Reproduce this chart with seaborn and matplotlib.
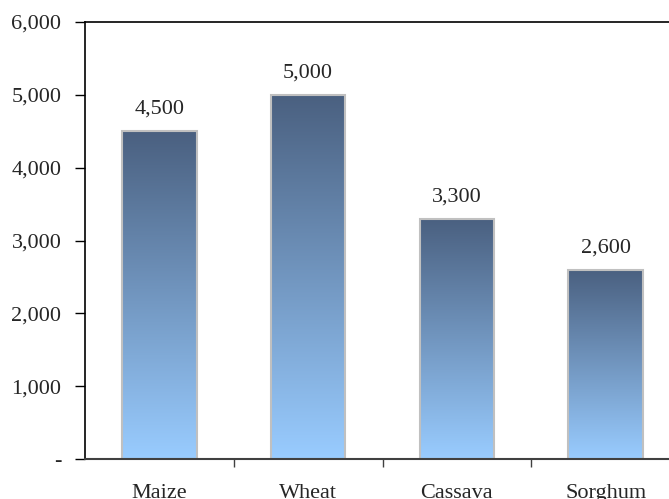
import numpy as np
import pandas as pd
import matplotlib
matplotlib.use("Agg")
import matplotlib.pyplot as plt
import seaborn as sns
from matplotlib.colors import LinearSegmentedColormap
from matplotlib.ticker import FuncFormatter

# Data
crops = ["Maize", "Wheat", "Cassava", "Sorghum"]
values = [4500, 5000, 3300, 2600]

df = pd.DataFrame({"Crop": crops, "Value": values})

sns.set_style("white")
plt.rcParams["font.family"] = ["Liberation Serif", "DejaVu Serif"]
plt.rcParams["font.size"] = 16

fig = plt.figure(figsize=(6.69, 4.99), dpi=100)
# axes runs a little past the right edge of the picture, like the original
ax = fig.add_axes([85 / 669, 40 / 499, 595 / 669, 437 / 499])

sns.barplot(data=df, x="Crop", y="Value", ax=ax, width=0.5,
            color="#7ea7d6", edgecolor="#c0c0c0", linewidth=1.5)

# vertical gradient on each bar: dark slate at top, light sky blue at bottom
cmap = LinearSegmentedColormap.from_list("barfade", ["#99ccff", "#4a6080"])
grad = np.linspace(0, 1, 256).reshape(-1, 1)
for patch in ax.patches:
    x0, y0 = patch.get_x(), patch.get_y()
    w, h = patch.get_width(), patch.get_height()
    im = ax.imshow(grad, cmap=cmap, origin="lower", aspect="auto",
                   extent=[x0, x0 + w, y0, y0 + h], zorder=patch.get_zorder())
    im.set_clip_path(patch)
    patch.set_facecolor("none")
    patch.set_zorder(patch.get_zorder() + 0.5)
    ax.text(x0 + w / 2, y0 + h + 170, f"{int(h):,}", ha="center", va="bottom",
            fontsize=16)

ax.set_xlim(-0.5, len(crops) - 0.5)
ax.set_ylim(0, 6000)
ax.set_yticks(range(0, 6001, 1000))
ax.yaxis.set_major_formatter(FuncFormatter(lambda v, p: "-" if v == 0 else f"{int(v):,}"))
ax.set_xlabel("")
ax.set_ylabel("")

# category labels without ticks, tick marks between categories
ax.set_xticks(range(len(crops)))
ax.set_xticklabels(crops)
ax.set_xticks(np.arange(0.5, len(crops) - 0.5, 1), minor=True)
ax.tick_params(axis="x", which="major", length=0, pad=18, labelsize=16)
ax.tick_params(axis="x", which="minor", bottom=True, length=6, width=1,
               color="#404040", direction="out")
ax.tick_params(axis="y", which="major", left=True, length=7, width=1,
               color="black", direction="out", pad=10, labelsize=16)

for side in ["left", "top"]:
    ax.spines[side].set_color("black")
    ax.spines[side].set_linewidth(1.2)
ax.spines["bottom"].set_color("#404040")
ax.spines["bottom"].set_linewidth(1.5)
ax.spines["right"].set_visible(False)

fig.savefig("out.png", dpi=100)
